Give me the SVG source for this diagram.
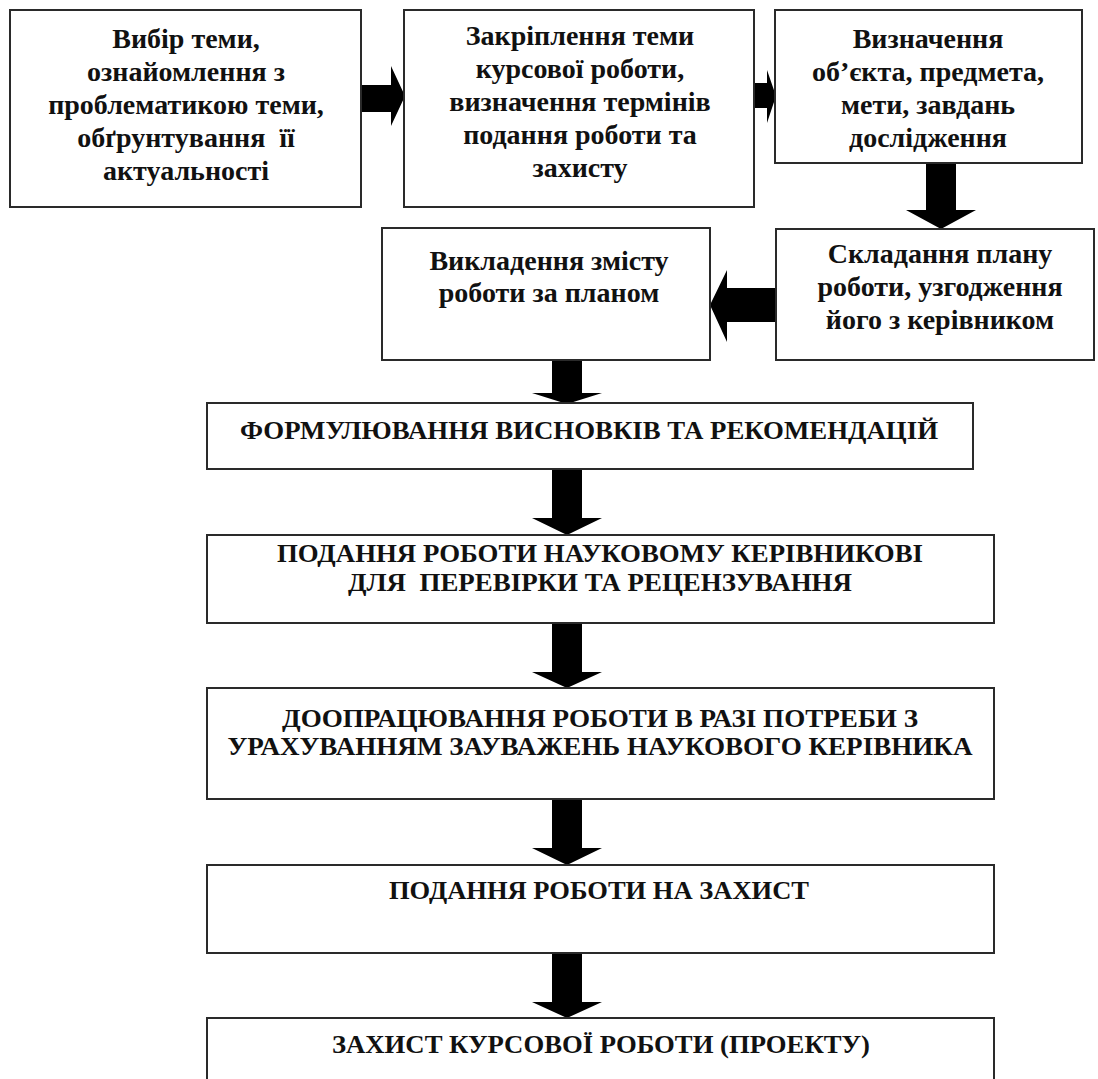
<svg xmlns="http://www.w3.org/2000/svg" width="1098" height="1079" viewBox="0 0 1098 1079">
<style>
.box{fill:#fff;stroke:#2a2a2a;stroke-width:2}
.t{font-family:"Liberation Serif","Times New Roman",serif;font-weight:bold;fill:#111;text-anchor:middle;white-space:pre}
.top{font-size:28px}
.cap{font-size:26px}
.arr{fill:#000}
</style>
<rect width="1098" height="1079" fill="#fff"/>
<g id="connectors">
<polygon class="arr" points="361,85 391,85 391,66 405,96 391,126 391,112 361,112"/>
<polygon class="arr" points="754,83 767,83 767,70 776,96 767,123 767,108 754,108"/>
<polygon class="arr" points="926,163 956,163 956,210 976,210 941,229 906,210 926,210"/>
<polygon class="arr" points="776,288 727,288 727,270 710,305 727,342 727,322 776,322"/>
<polygon class="arr" points="552,361 582,361 582,393 602,393 567,404 532,393 552,393"/>
<polygon class="arr" points="552,469 582,469 582,518 602,518 567,535 532,518 552,518"/>
<polygon class="arr" points="552,623 582,623 582,672 602,672 567,688 532,672 552,672"/>
<polygon class="arr" points="552,799 582,799 582,848 602,848 567,865 532,848 552,848"/>
<polygon class="arr" points="552,953 582,953 582,1002 602,1002 567,1018 532,1002 552,1002"/>
</g>
<g id="n1">
<rect class="box" x="10" y="10" width="351" height="197"/>
<text class="t top" x="186" y="48">Вибір теми,</text>
<text class="t top" x="186" y="81">ознайомлення з</text>
<text class="t top" x="186" y="114">проблематикою теми,</text>
<text class="t top" x="186" y="147">обґрунтування  її</text>
<text class="t top" x="186" y="180">актуальності</text>
</g>
<g id="n2">
<rect class="box" x="404" y="10" width="350" height="197"/>
<text class="t top" x="580" y="45">Закріплення теми</text>
<text class="t top" x="580" y="78">курсової роботи,</text>
<text class="t top" x="580" y="111">визначення термінів</text>
<text class="t top" x="580" y="144">подання роботи та</text>
<text class="t top" x="580" y="177">захисту</text>
</g>
<g id="n3">
<rect class="box" x="775" y="10" width="307" height="153"/>
<text class="t top" x="928" y="48">Визначення</text>
<text class="t top" x="928" y="81">об’єкта, предмета,</text>
<text class="t top" x="928" y="114">мети, завдань</text>
<text class="t top" x="928" y="147">дослідження</text>
</g>
<g id="n4">
<rect class="box" x="776" y="229" width="318" height="131"/>
<text class="t top" x="940" y="263">Складання плану</text>
<text class="t top" x="940" y="296">роботи, узгодження</text>
<text class="t top" x="940" y="329">його з керівником</text>
</g>
<g id="n5">
<rect class="box" x="382" y="228" width="328" height="132"/>
<text class="t top" x="549" y="270">Викладення змісту</text>
<text class="t top" x="549" y="302">роботи за планом</text>
</g>
<g id="n6">
<rect class="box" x="207" y="403" width="766" height="66"/>
<text class="t cap" x="589" y="439" textLength="698" lengthAdjust="spacingAndGlyphs">ФОРМУЛЮВАННЯ ВИСНОВКІВ ТА РЕКОМЕНДАЦІЙ</text>
</g>
<g id="n7">
<rect class="box" x="207" y="535" width="787" height="88"/>
<text class="t cap" x="600" y="562" textLength="646" lengthAdjust="spacingAndGlyphs">ПОДАННЯ РОБОТИ НАУКОВОМУ КЕРІВНИКОВІ</text>
<text class="t cap" x="600" y="591" textLength="504" lengthAdjust="spacingAndGlyphs">ДЛЯ  ПЕРЕВІРКИ ТА РЕЦЕНЗУВАННЯ</text>
</g>
<g id="n8">
<rect class="box" x="207" y="688" width="787" height="111"/>
<text class="t cap" x="600" y="727" textLength="636" lengthAdjust="spacingAndGlyphs">ДООПРАЦЮВАННЯ РОБОТИ В РАЗІ ПОТРЕБИ З</text>
<text class="t cap" x="600" y="755" textLength="745" lengthAdjust="spacingAndGlyphs">УРАХУВАННЯМ ЗАУВАЖЕНЬ НАУКОВОГО КЕРІВНИКА</text>
</g>
<g id="n9">
<rect class="box" x="207" y="865" width="787" height="88"/>
<text class="t cap" x="599" y="899" textLength="420" lengthAdjust="spacingAndGlyphs">ПОДАННЯ РОБОТИ НА ЗАХИСТ</text>
</g>
<g id="n10">
<rect class="box" x="207" y="1018" width="787" height="90"/>
<text class="t cap" x="601" y="1053" textLength="538" lengthAdjust="spacingAndGlyphs">ЗАХИСТ КУРСОВОЇ РОБОТИ (ПРОЕКТУ)</text>
</g>
</svg>
